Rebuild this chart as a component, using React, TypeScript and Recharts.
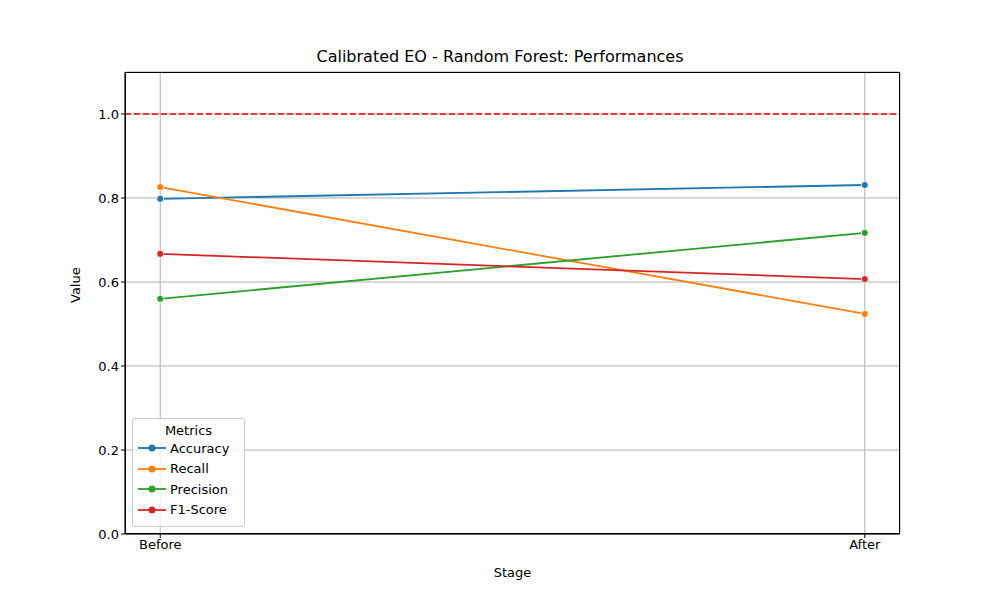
import { CartesianGrid, Line, LineChart, ReferenceLine, XAxis, YAxis } from 'recharts';

const stages = ['Before', 'After'];
const accuracy = [0.798, 0.831];
const recall = [0.826, 0.524];
const precision = [0.56, 0.717];
const f1 = [0.667, 0.607];
const yTicks = [0, 0.2, 0.4, 0.6, 0.8, 1.0];

const series = [
  { key: 'Accuracy', values: accuracy, color: '#1f77b4' },
  { key: 'Recall', values: recall, color: '#ff7f0e' },
  { key: 'Precision', values: precision, color: '#2ca02c' },
  { key: 'F1-Score', values: f1, color: '#d62728' },
];

const data = stages.map((s, i) => {
  const row: Record<string, number | string> = { x: i, stage: s };
  series.forEach((m) => (row[m.key] = m.values[i]));
  return row;
});

const font = 'DejaVu Sans, sans-serif';
const tick = { fill: '#000', fontSize: 13, fontFamily: font };

export default function App() {
  return (
    <div style={{ position: 'absolute', left: 0, top: 0, width: 1000, height: 600, background: '#fff', fontFamily: font }}>
      <div style={{ position: 'absolute', top: 47, width: 1000, textAlign: 'center', fontSize: 16 }}>
        Calibrated EO - Random Forest: Performances
      </div>
      <LineChart width={1000} height={600} data={data} margin={{ top: 72, right: 100, bottom: 36, left: 65 }}>
        <CartesianGrid stroke="#b0b0b0" horizontal vertical />
        <XAxis
          dataKey="x"
          type="number"
          domain={[-0.05, 1.05]}
          ticks={[0, 1]}
          tickFormatter={(v: number) => stages[v]}
          tick={tick}
          stroke="#000"
          tickSize={4}
          height={30}
          label={{ value: 'Stage', position: 'bottom', offset: 4, fill: '#000', fontSize: 13, fontFamily: font }}
        />
        <YAxis
          type="number"
          domain={[0, 1.1]}
          ticks={yTicks}
          tickFormatter={(v: number) => v.toFixed(1)}
          tick={tick}
          stroke="#000"
          tickSize={4}
          width={60}
          label={{ value: 'Value', angle: -90, position: 'insideLeft', offset: 10, fill: '#000', fontSize: 13, fontFamily: font }}
        />
        <ReferenceLine y={1} stroke="#ff0000" strokeWidth={1.5} strokeDasharray="6 3" />
        {series.map((m) => (
          <Line
            key={m.key}
            dataKey={m.key}
            stroke={m.color}
            strokeWidth={1.8}
            dot={{ r: 3.5, fill: m.color, stroke: '#fff', strokeWidth: 0.8 }}
            isAnimationActive={false}
          />
        ))}
      </LineChart>
      <div
        style={{
          position: 'absolute', left: 125, top: 72, width: 775, height: 462,
          border: '1px solid #000', boxSizing: 'border-box', pointerEvents: 'none',
        }}
      />
      <div
        style={{
          position: 'absolute', left: 132, top: 418, width: 111, height: 107,
          border: '1px solid #ccc', borderRadius: 3, background: 'rgba(255,255,255,0.8)', fontSize: 13,
        }}
      >
        <div style={{ textAlign: 'center', marginTop: 4 }}>Metrics</div>
        {series.map((m) => (
          <div key={m.key} style={{ display: 'flex', alignItems: 'center', height: 20.5, paddingLeft: 5 }}>
            <svg width={28} height={10} style={{ marginRight: 4 }}>
              <line x1={0} y1={5} x2={28} y2={5} stroke={m.color} strokeWidth={1.8} />
              <circle cx={14} cy={5} r={3.5} fill={m.color} />
            </svg>
            {m.key}
          </div>
        ))}
      </div>
    </div>
  );
}
